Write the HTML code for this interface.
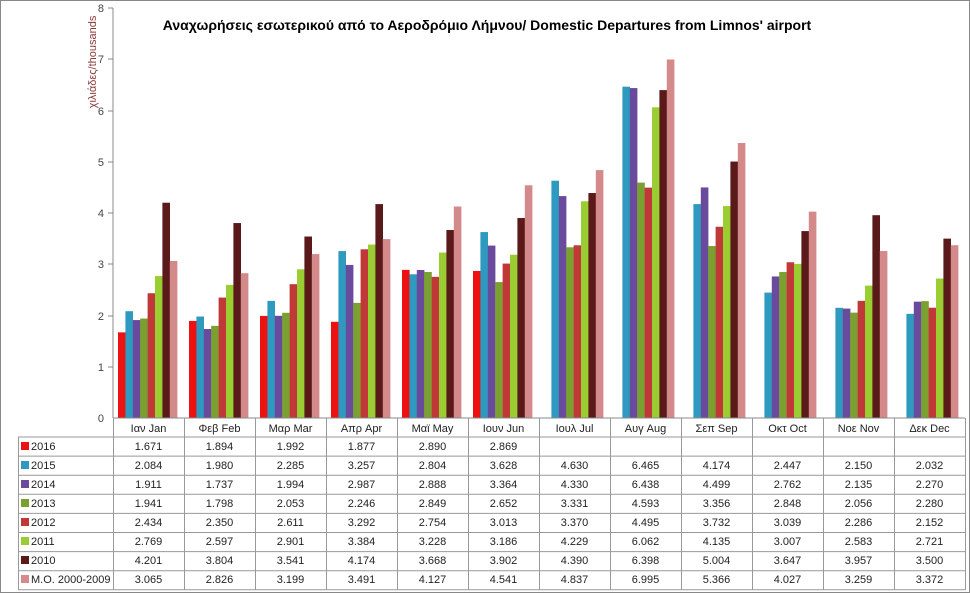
<!DOCTYPE html>
<html><head><meta charset="utf-8"><style>
body{margin:0;background:#fff;}
#c{position:relative;width:970px;height:593px;overflow:hidden;font-family:"Liberation Sans","DejaVu Sans",sans-serif;}
</style></head><body><div id="c">
<svg width="970" height="593" xmlns="http://www.w3.org/2000/svg" style="position:absolute;left:0;top:0">
<rect x="0.5" y="0.5" width="969" height="592" fill="#fff" stroke="#888"/>
<text x="487" y="30" text-anchor="middle" font-size="14" font-weight="bold" fill="#000">Αναχωρήσεις εσωτερικού από το Αεροδρόμιο Λήμνου/ Domestic Departures from Limnos' airport</text>
<text transform="translate(96,62) rotate(-90)" text-anchor="middle" font-size="11" fill="#8b3a3a">χιλιάδες/thousands</text>
<g font-size="11" fill="#444" text-anchor="end">
<text x="104" y="422">0</text><text x="104" y="371">1</text><text x="104" y="320">2</text><text x="104" y="268">3</text>
<text x="104" y="217">4</text><text x="104" y="166">5</text><text x="104" y="115">6</text><text x="104" y="63">7</text><text x="104" y="12">8</text>
</g>
<g id="bars"></g>
<line x1="113" y1="8" x2="113" y2="418" stroke="#888"/>
<g stroke="#888"><line x1="108" y1="8" x2="113" y2="8"/><line x1="108" y1="59" x2="113" y2="59"/><line x1="108" y1="111" x2="113" y2="111"/><line x1="108" y1="162" x2="113" y2="162"/><line x1="108" y1="213" x2="113" y2="213"/><line x1="108" y1="264" x2="113" y2="264"/><line x1="108" y1="316" x2="113" y2="316"/><line x1="108" y1="367" x2="113" y2="367"/></g>
<line x1="113" y1="418" x2="965" y2="418" stroke="#888"/>
<g id="grid" stroke="#999"></g>
<g font-size="11" fill="#222" text-anchor="middle">
<text x="148.5" y="432">Ιαν  Jan</text><text x="219.5" y="432">Φεβ  Feb</text><text x="290.5" y="432">Μαρ  Mar</text><text x="361.5" y="432">Απρ  Apr</text><text x="432.5" y="432">Μαϊ  May</text><text x="503.5" y="432">Ιουν  Jun</text><text x="574.5" y="432">Ιουλ  Jul</text><text x="645.5" y="432">Αυγ  Aug</text><text x="716.5" y="432">Σεπ  Sep</text><text x="787.5" y="432">Οκτ  Oct</text><text x="858.5" y="432">Νοε  Nov</text><text x="929.5" y="432">Δεκ  Dec</text>
</g>
<g font-size="11" fill="#222" text-anchor="middle">
<text y="450"><tspan x="148.5">1.671</tspan><tspan x="219.5">1.894</tspan><tspan x="290.5">1.992</tspan><tspan x="361.5">1.877</tspan><tspan x="432.5">2.890</tspan><tspan x="503.5">2.869</tspan></text>
<text y="469"><tspan x="148.5">2.084</tspan><tspan x="219.5">1.980</tspan><tspan x="290.5">2.285</tspan><tspan x="361.5">3.257</tspan><tspan x="432.5">2.804</tspan><tspan x="503.5">3.628</tspan><tspan x="574.5">4.630</tspan><tspan x="645.5">6.465</tspan><tspan x="716.5">4.174</tspan><tspan x="787.5">2.447</tspan><tspan x="858.5">2.150</tspan><tspan x="929.5">2.032</tspan></text>
<text y="488"><tspan x="148.5">1.911</tspan><tspan x="219.5">1.737</tspan><tspan x="290.5">1.994</tspan><tspan x="361.5">2.987</tspan><tspan x="432.5">2.888</tspan><tspan x="503.5">3.364</tspan><tspan x="574.5">4.330</tspan><tspan x="645.5">6.438</tspan><tspan x="716.5">4.499</tspan><tspan x="787.5">2.762</tspan><tspan x="858.5">2.135</tspan><tspan x="929.5">2.270</tspan></text>
<text y="507"><tspan x="148.5">1.941</tspan><tspan x="219.5">1.798</tspan><tspan x="290.5">2.053</tspan><tspan x="361.5">2.246</tspan><tspan x="432.5">2.849</tspan><tspan x="503.5">2.652</tspan><tspan x="574.5">3.331</tspan><tspan x="645.5">4.593</tspan><tspan x="716.5">3.356</tspan><tspan x="787.5">2.848</tspan><tspan x="858.5">2.056</tspan><tspan x="929.5">2.280</tspan></text>
<text y="526"><tspan x="148.5">2.434</tspan><tspan x="219.5">2.350</tspan><tspan x="290.5">2.611</tspan><tspan x="361.5">3.292</tspan><tspan x="432.5">2.754</tspan><tspan x="503.5">3.013</tspan><tspan x="574.5">3.370</tspan><tspan x="645.5">4.495</tspan><tspan x="716.5">3.732</tspan><tspan x="787.5">3.039</tspan><tspan x="858.5">2.286</tspan><tspan x="929.5">2.152</tspan></text>
<text y="545"><tspan x="148.5">2.769</tspan><tspan x="219.5">2.597</tspan><tspan x="290.5">2.901</tspan><tspan x="361.5">3.384</tspan><tspan x="432.5">3.228</tspan><tspan x="503.5">3.186</tspan><tspan x="574.5">4.229</tspan><tspan x="645.5">6.062</tspan><tspan x="716.5">4.135</tspan><tspan x="787.5">3.007</tspan><tspan x="858.5">2.583</tspan><tspan x="929.5">2.721</tspan></text>
<text y="564"><tspan x="148.5">4.201</tspan><tspan x="219.5">3.804</tspan><tspan x="290.5">3.541</tspan><tspan x="361.5">4.174</tspan><tspan x="432.5">3.668</tspan><tspan x="503.5">3.902</tspan><tspan x="574.5">4.390</tspan><tspan x="645.5">6.398</tspan><tspan x="716.5">5.004</tspan><tspan x="787.5">3.647</tspan><tspan x="858.5">3.957</tspan><tspan x="929.5">3.500</tspan></text>
<text y="583"><tspan x="148.5">3.065</tspan><tspan x="219.5">2.826</tspan><tspan x="290.5">3.199</tspan><tspan x="361.5">3.491</tspan><tspan x="432.5">4.127</tspan><tspan x="503.5">4.541</tspan><tspan x="574.5">4.837</tspan><tspan x="645.5">6.995</tspan><tspan x="716.5">5.366</tspan><tspan x="787.5">4.027</tspan><tspan x="858.5">3.259</tspan><tspan x="929.5">3.372</tspan></text>
</g>
<g font-size="11" fill="#222">
<rect x="21" y="442" width="8" height="8" fill="#ee1111"/><text x="31" y="450">2016</text>
<rect x="21" y="461" width="8" height="8" fill="#2e9ac0"/><text x="31" y="469">2015</text>
<rect x="21" y="480" width="8" height="8" fill="#6a4a9c"/><text x="31" y="488">2014</text>
<rect x="21" y="499" width="8" height="8" fill="#7aa030"/><text x="31" y="507">2013</text>
<rect x="21" y="518" width="8" height="8" fill="#c03838"/><text x="31" y="526">2012</text>
<rect x="21" y="537" width="8" height="8" fill="#9acd32"/><text x="31" y="545">2011</text>
<rect x="21" y="556" width="8" height="8" fill="#5a1a1a"/><text x="31" y="564">2010</text>
<rect x="21" y="575" width="8" height="8" fill="#d48a8a"/><text x="31" y="583">M.O. 2000-2009</text>
</g>
</svg>
<script>
var d=[
[1.671,1.894,1.992,1.877,2.890,2.869,0,0,0,0,0,0],
[2.084,1.980,2.285,3.257,2.804,3.628,4.630,6.465,4.174,2.447,2.150,2.032],
[1.911,1.737,1.994,2.987,2.888,3.364,4.330,6.438,4.499,2.762,2.135,2.270],
[1.941,1.798,2.053,2.246,2.849,2.652,3.331,4.593,3.356,2.848,2.056,2.280],
[2.434,2.350,2.611,3.292,2.754,3.013,3.370,4.495,3.732,3.039,2.286,2.152],
[2.769,2.597,2.901,3.384,3.228,3.186,4.229,6.062,4.135,3.007,2.583,2.721],
[4.201,3.804,3.541,4.174,3.668,3.902,4.390,6.398,5.004,3.647,3.957,3.500],
[3.065,2.826,3.199,3.491,4.127,4.541,4.837,6.995,5.366,4.027,3.259,3.372]];
var col=["#ee1111","#2e9ac0","#6a4a9c","#7aa030","#c03838","#9acd32","#5a1a1a","#d48a8a"];
var ns="http://www.w3.org/2000/svg",g=document.getElementById("bars"),gr=document.getElementById("grid");
for(var m=0;m<12;m++){for(var s=0;s<8;s++){var v=d[s][m];if(!v)continue;var h=v*51.25;
var r=document.createElementNS(ns,"rect");r.setAttribute("x",113+m*71+5+s*7.4);r.setAttribute("y",418-h);r.setAttribute("width",7.6);r.setAttribute("height",h);r.setAttribute("fill",col[s]);g.appendChild(r);}}
function L(x1,y1,x2,y2){var l=document.createElementNS(ns,"line");l.setAttribute("x1",x1);l.setAttribute("y1",y1);l.setAttribute("x2",x2);l.setAttribute("y2",y2);gr.appendChild(l);}
for(var i=0;i<=12;i++){var x=113+i*71;if(i==12)x=965;L(x+0.5,418,x+0.5,590);}
L(18.5,437,18.5,590);
for(var j=0;j<=8;j++){var y=437+j*19.1;L(18,y,965,y);}
</script>
</div></body></html>
